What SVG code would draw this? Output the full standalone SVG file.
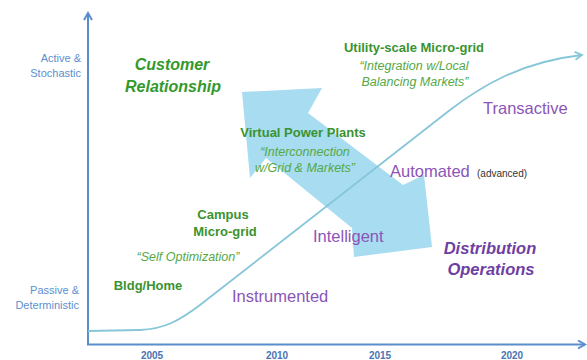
<svg xmlns="http://www.w3.org/2000/svg" width="587" height="360" viewBox="0 0 587 360">
<style>
text{font-family:"Liberation Sans",Arial,sans-serif}
.ax{fill:none;stroke:#5a8dcc;stroke-width:2}
.crv{fill:none;stroke:#86c6d8;stroke-width:1.8}
.axl{font-size:11px;fill:#5b8fd0}
.yr{font-size:10px;font-weight:bold;fill:#4a74b3;text-anchor:middle}
.gb{font-size:13px;font-weight:bold;fill:#3a932f;text-anchor:middle}
.gi{font-size:12.5px;font-style:italic;fill:#55a845;text-anchor:middle}
.gh{font-size:16px;font-weight:bold;font-style:italic;fill:#33992c;text-anchor:middle}
.pu{font-size:16.5px;fill:#8b55b8}
.ph{font-size:16.5px;font-weight:bold;font-style:italic;fill:#6e3fa3;text-anchor:middle}
</style>
<defs>
<marker id="chev" markerWidth="10" markerHeight="10" refX="8" refY="5" orient="auto" markerUnits="userSpaceOnUse">
<path d="M1,1 L8,5 L1,9" fill="none" stroke="#5a8dcc" stroke-width="2"/>
</marker>
<marker id="chev2" markerWidth="10" markerHeight="10" refX="8" refY="5" orient="auto" markerUnits="userSpaceOnUse">
<path d="M1,1 L8,5 L1,9" fill="none" stroke="#86c6d8" stroke-width="1.8"/>
</marker>
</defs>
<g id="double-arrow">
<polygon points="242,92 322,88 308,113 403,185 424,175 432,247 354,257 352,228 266,158 250,178" fill="#a7dcf1"/>
</g>
<g id="connectors">
<path class="ax" d="M88,345 L88,13" marker-end="url(#chev)"/>
<path class="ax" d="M87,344.5 L585,344.5" marker-end="url(#chev)"/>
<path class="crv" d="M88,331 L140,330 C165,329 180,320 200,305 L450,110 C480,87 520,62 582,55" marker-end="url(#chev2)"/>
</g>
<g id="y-axis-labels">
<text class="axl" x="81" y="62" text-anchor="end">Active &amp;</text>
<text class="axl" x="81" y="77" text-anchor="end">Stochastic</text>
<text class="axl" x="79" y="294" text-anchor="end">Passive &amp;</text>
<text class="axl" x="79" y="309" text-anchor="end">Deterministic</text>
</g>
<g id="x-axis-labels">
<text class="yr" x="152" y="359">2005</text>
<text class="yr" x="277" y="359">2010</text>
<text class="yr" x="380" y="359">2015</text>
<text class="yr" x="512" y="359">2020</text>
</g>
<g id="customer-relationship">
<text class="gh" x="172" y="70">Customer</text>
<text class="gh" x="173" y="92">Relationship</text>
</g>
<g id="utility-microgrid">
<text class="gb" x="414" y="52">Utility-scale Micro-grid</text>
<text class="gi" x="414" y="70">“Integration w/Local</text>
<text class="gi" x="415" y="86">Balancing Markets”</text>
</g>
<g id="virtual-power-plants">
<text class="gb" x="303" y="137">Virtual Power Plants</text>
<text class="gi" x="305" y="156">“Interconnection</text>
<text class="gi" x="305" y="172">w/Grid &amp; Markets”</text>
</g>
<g id="campus-microgrid">
<text class="gb" x="223" y="219">Campus</text>
<text class="gb" x="225" y="236">Micro-grid</text>
<text class="gi" x="188" y="261">“Self Optimization”</text>
</g>
<g id="bldg-home">
<text class="gb" x="148" y="290">Bldg/Home</text>
</g>
<g id="transactive"><text class="pu" x="483" y="114">Transactive</text></g>
<g id="automated">
<text class="pu" x="390" y="177">Automated</text>
<text x="477" y="177" font-size="10" fill="#333">(advanced)</text>
</g>
<g id="intelligent"><text class="pu" x="313" y="242">Intelligent</text></g>
<g id="instrumented"><text class="pu" x="232" y="302">Instrumented</text></g>
<g id="distribution-operations">
<text class="ph" x="490" y="254">Distribution</text>
<text class="ph" x="491" y="275">Operations</text>
</g>
</svg>
